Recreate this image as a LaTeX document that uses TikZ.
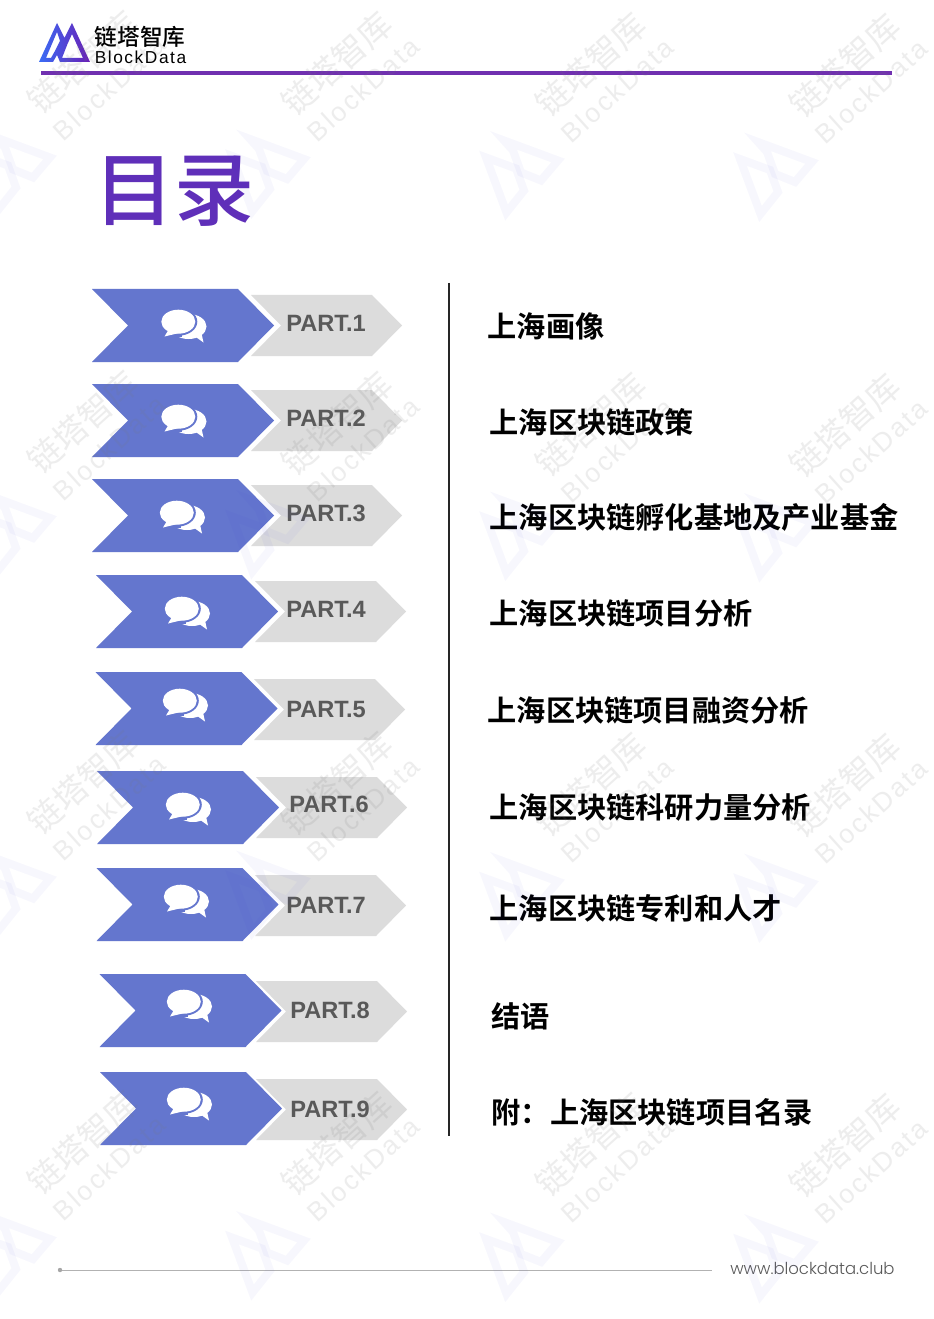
\documentclass[tikz,border=0pt]{standalone}
\usepackage{fontspec}
\usetikzlibrary{shadings}
\setmainfont{Liberation Sans}
\newfontfamily\cjkb{Noto Sans CJK SC Bold}
\newfontfamily\cjkr{Noto Sans CJK SC}
\newfontfamily\cjkm{Noto Sans CJK SC Medium}
\newfontfamily\footfont{Poppins Light}
\newfontfamily\spaced[LetterSpace=9]{Liberation Sans}
\newfontfamily\wspaced[LetterSpace=9]{Liberation Sans}
\definecolor{chevblue}{HTML}{6476CE}
\definecolor{chevgrey}{HTML}{DCDCDC}
\definecolor{parttxt}{HTML}{595959}
\definecolor{titlepurple}{HTML}{5F2FB9}
\definecolor{rulepurple}{HTML}{7030B0}
\definecolor{wmgrey}{HTML}{777777}
\definecolor{wmblue}{HTML}{3A3AE0}
\definecolor{logoblue}{HTML}{3A6CF5}
\definecolor{logopurple}{HTML}{6A1FB5}
\tikzset{
  bluechev/.style={fill=chevblue,draw=none},
  greychev/.style={fill=chevgrey,draw=none},
  parttext/.style={anchor=west,inner sep=0pt,text=parttxt,font=\fontsize{17.7}{18}\bfseries\selectfont},
  itemtext/.style={anchor=west,inner sep=0pt,text=black,font=\fontsize{21.9}{22}\cjkb},
  wmtext/.style={inner sep=0pt,rotate=42,text=wmgrey,text opacity=.13},
  wmlogo/.style={draw=wmblue,draw opacity=.04,line width=6pt,miter limit=10,line join=miter},
  bubble/.style={fill=white,draw=none}
}
\begin{document}
\begin{tikzpicture}[x=0.75pt,y=-0.75pt]
\useasboundingbox (0,0) rectangle (933,1319);
\fill[white] (0,0) rectangle (933,1319);
\foreach \n/\bx/\by/\gx/\gy/\px/\py/\ix/\iy/\tx/\ty/\lab in {
 1/92/289/251/295/286/323.5/184/325/487.5/326.5/{上海画像},
 2/92/384/251/390/286/418.5/184/420/489.5/422.5/{上海区块链政策},
 3/92/479/251/485/286/513.5/182.5/516/489.5/517.5/{上海区块链孵化基地及产业基金},
 4/96/575/255/581/286/609.5/187.5/612/489.5/613.5/{上海区块链项目分析},
 5/95.5/672/254/679/286/709.5/185.5/704/487.5/710.5/{上海区块链项目融资分析},
 6/97/771/256/777/289/804.5/188.5/808/489.5/807.5/{上海区块链科研力量分析},
 7/96.5/868/255/875/286/905.5/186.5/900/489.5/908.5/{上海区块链专利和人才},
 8/99.5/974/256/981/290/1010.5/189.5/1005/491.5/1016.5/{结语},
 9/100/1072/256/1079/290/1109.5/189.5/1103/491.5/1112.5/{附：上海区块链项目名录}}{
  \fill[greychev] (\gx,\gy) -- ++(121,0) -- ++(30,30.5) -- ++(-30,30.5) -- ++(-121,0) -- ++(30,-30.5) -- cycle;
  \fill[bluechev] (\bx,\by) -- ++(146,0) -- ++(36,36.5) -- ++(-36,36.5) -- ++(-146,0) -- ++(36,-36.5) -- cycle;
  \node[parttext] (part\n) at (\px,\py) {PART.\n};
  \node[itemtext] (item\n) at (\tx,\ty) {\lab};
  \begin{scope}[shift={(\ix,\iy)}]
    \fill[bubble] (4.5,1.5) ellipse [x radius=18,y radius=12.5];
    \fill[bubble] (9,10) -- (19.5,17.5) -- (17,6) -- cycle;
    \fill[chevblue] (-5.7,-3.3) ellipse [x radius=19,y radius=14];
    \fill[chevblue] (-18,2) rectangle (-2,12);
    \fill[bubble] (-5.7,-3.3) ellipse [x radius=17,y radius=12];
    \fill[bubble] (-15,4) -- (-19.5,11.5) -- (-5,8) -- cycle;
  \end{scope}
}
% logo
\shade[left color=logoblue,right color=logopurple,even odd rule]
  (39,62) -- (57,23) -- (64.5,38) -- (72,23) -- (90,62) -- (60,62) -- (57,55) -- (53,62) -- cycle
  (46,58) -- (51,58) -- (55.5,50) -- (60,41) -- (57,32) -- cycle
  (62,58) -- (83,58) -- (72,34) -- (67.5,44) -- cycle;
\node[inner sep=0pt,anchor=west,font=\fontsize{17}{17}\cjkm] (brandcn) at (94.5,37) {链塔智库};
\node[inner sep=0pt,anchor=west,font=\fontsize{13}{13}\spaced] (branden) at (94.5,57) {BlockData};
\coordinate (ruleL) at (41,73);\coordinate (ruleR) at (892,73);
\draw[rulepurple,line width=2.7pt] (ruleL) -- (ruleR);
\node[inner sep=0pt,anchor=west,text=titlepurple,font=\fontsize{60}{60}\cjkm] (title) at (94,191) {目录};
\coordinate (divT) at (449,283);\coordinate (divB) at (449,1136);
\draw[black!85,line width=1pt] (divT) -- (divB);
\coordinate (footL) at (60,1270);\coordinate (footR) at (712,1270);
\draw[black!30,line width=.75pt] (footL) -- (footR);
\fill[black!35] (footL) circle (2.2);
\node[inner sep=0pt,anchor=west,text=parttxt,font=\fontsize{12.35}{13}\footfont] (site) at (730,1268.5) {www.blockdata.club};
\foreach \r in {0,1,2,3}{
 \foreach \c in {0,1,2,3}{
  \pgfmathsetmacro{\ox}{83+254*\c}
  \pgfmathsetmacro{\oy}{62+360*\r+1.2*\c}
  \node[wmtext,font=\fontsize{25}{25}\cjkr] (wmcn\r\c) at (\ox,\oy) {链塔智库};
  \node[wmtext,font=\fontsize{20}{20}\wspaced] (wmen\r\c) at (\ox+26,\oy+26) {BlockData};
  \begin{scope}[shift={(-37+254*\c,124.5+360.5*\r+1.5*\c)}]
    \draw[wmlogo] (15,30) -- (45,41) -- (53,63) -- (35.5,85) -- cycle;
    \draw[wmlogo] (33,13) -- (87,33) -- (70,53) -- (50,45) -- (42,23) -- cycle;
  \end{scope}
 }
}
\end{tikzpicture}
\end{document}
